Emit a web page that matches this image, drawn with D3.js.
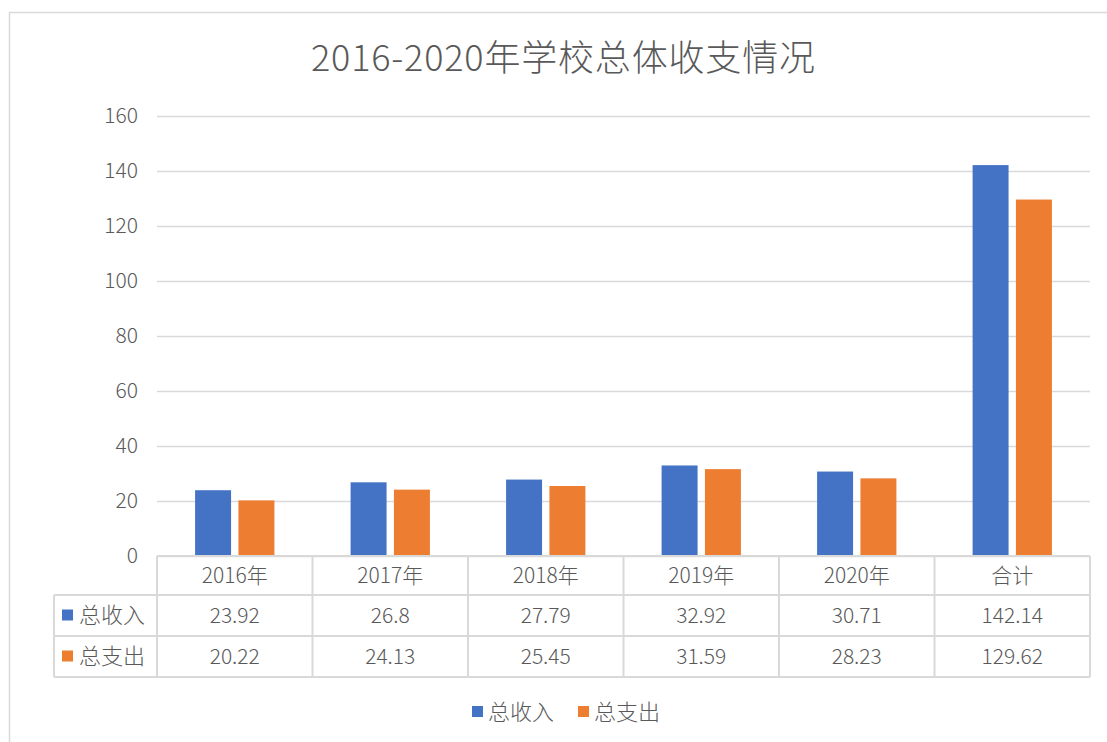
<!DOCTYPE html>
<html>
<head>
<meta charset="utf-8">
<script src="https://cdn.jsdelivr.net/npm/d3@7"></script>
<style>
  body { margin: 0; background: #fff; }
  svg text { font-family: "Noto Sans CJK SC", "Noto Sans", sans-serif; fill: #595959; font-weight: 300; }
</style>
</head>
<body>
<script>
const categories = ['2016年', '2017年', '2018年', '2019年', '2020年', '合计'];
const seriesNames = ['总收入', '总支出'];
const income = [23.92, 26.8, 27.79, 32.92, 30.71, 142.14];
const expense = [20.22, 24.13, 25.45, 31.59, 28.23, 129.62];
const yTicks = [0, 20, 40, 60, 80, 100, 120, 140, 160];
const colors = ['#4472C4', '#ED7D31'];

const width = 1107;
const height = 742;
const plotLeft = 157, plotRight = 1090, plotTop = 116, plotBottom = 556;
const rowLines = [556, 595, 636, 677];
const labelLeft = 54;
const grid = '#d9d9d9';

const seriesData = [income, expense];

const svg = d3.select('body')
  .append('svg')
  .attr('width', width)
  .attr('height', height);

// chart border
svg.append('rect')
  .attr('x', 9.5).attr('y', 12.5)
  .attr('width', width + 10).attr('height', height + 10)
  .attr('fill', 'none')
  .attr('stroke', grid)
  .attr('stroke-width', 1.5);

svg.append('text')
  .attr('x', 563)
  .attr('y', 71)
  .attr('text-anchor', 'middle')
  .attr('textLength', 504)
  .style('font-size', '36px')
  .text('2016-2020年学校总体收支情况');

const yScale = d3.scaleLinear()
  .domain([0, 160])
  .range([plotBottom, plotTop]);

const xScale = d3.scaleBand()
  .domain(categories)
  .range([plotLeft, plotRight]);

const bw = xScale.bandwidth();
const xSub = d3.scaleBand()
  .domain(seriesNames)
  .range([bw * 0.245, bw * 0.755])
  .paddingInner(0.17);

const yAxis = d3.axisLeft(yScale)
  .tickValues(yTicks)
  .tickSize(-(plotRight - plotLeft))
  .tickPadding(19);

const yG = svg.append('g')
  .attr('transform', `translate(${plotLeft},0)`)
  .call(yAxis);
yG.select('.domain').remove();
yG.selectAll('line').attr('stroke', grid).attr('stroke-width', 1.5);
yG.selectAll('text')
  .style('font-size', '21px')
  .style('font-family', '"Noto Sans CJK SC", "Noto Sans", sans-serif')
  .attr('fill', '#595959');

// bars
seriesNames.forEach((s, si) => {
  svg.append('g')
    .selectAll('rect')
    .data(seriesData[si])
    .enter()
    .append('rect')
    .attr('x', (d, i) => xScale(categories[i]) + xSub(s))
    .attr('y', d => yScale(d))
    .attr('width', xSub.bandwidth())
    .attr('height', d => plotBottom - yScale(d))
    .attr('fill', colors[si]);
});

// data table
const tbl = svg.append('g')
  .attr('stroke', grid)
  .attr('stroke-width', 2)
  .attr('fill', 'none');

tbl.append('line').attr('x1', plotLeft).attr('x2', plotRight).attr('y1', rowLines[0]).attr('y2', rowLines[0]);
rowLines.slice(1).forEach(y => {
  tbl.append('line').attr('x1', labelLeft).attr('x2', plotRight).attr('y1', y).attr('y2', y);
});
xScale.domain().forEach(c => {
  tbl.append('line').attr('x1', xScale(c)).attr('x2', xScale(c)).attr('y1', rowLines[0]).attr('y2', rowLines[3]);
});
tbl.append('line').attr('x1', plotRight).attr('x2', plotRight).attr('y1', rowLines[0]).attr('y2', rowLines[3]);
tbl.append('line').attr('x1', labelLeft).attr('x2', labelLeft).attr('y1', rowLines[1]).attr('y2', rowLines[3]);

svg.append('g')
  .selectAll('text')
  .data(categories)
  .enter()
  .append('text')
  .attr('x', d => xScale(d) + bw / 2)
  .attr('y', (rowLines[0] + rowLines[1]) / 2)
  .attr('dy', '0.35em')
  .attr('text-anchor', 'middle')
  .style('font-size', '21px')
  .text(d => d);

seriesNames.forEach((s, si) => {
  const cy = (rowLines[si + 1] + rowLines[si + 2]) / 2;
  svg.append('rect')
    .attr('x', 62).attr('y', cy - 6)
    .attr('width', 11).attr('height', 11)
    .attr('fill', colors[si]);
  svg.append('text')
    .attr('x', 79).attr('y', cy)
    .attr('dy', '0.35em')
    .style('font-size', '22px')
    .text(s);
  svg.append('g')
    .selectAll('text')
    .data(seriesData[si])
    .enter()
    .append('text')
    .attr('x', (d, i) => xScale(categories[i]) + bw / 2)
    .attr('y', cy)
    .attr('dy', '0.35em')
    .attr('text-anchor', 'middle')
    .style('font-size', '21px')
    .text(d => d);
});

// legend
const legendX = [472, 578];
seriesNames.forEach((s, si) => {
  svg.append('rect')
    .attr('x', legendX[si]).attr('y', 706)
    .attr('width', 11).attr('height', 11)
    .attr('fill', colors[si]);
  svg.append('text')
    .attr('x', legendX[si] + 16).attr('y', 712)
    .attr('dy', '0.35em')
    .style('font-size', '22px')
    .text(s);
});
</script>
</body>
</html>
